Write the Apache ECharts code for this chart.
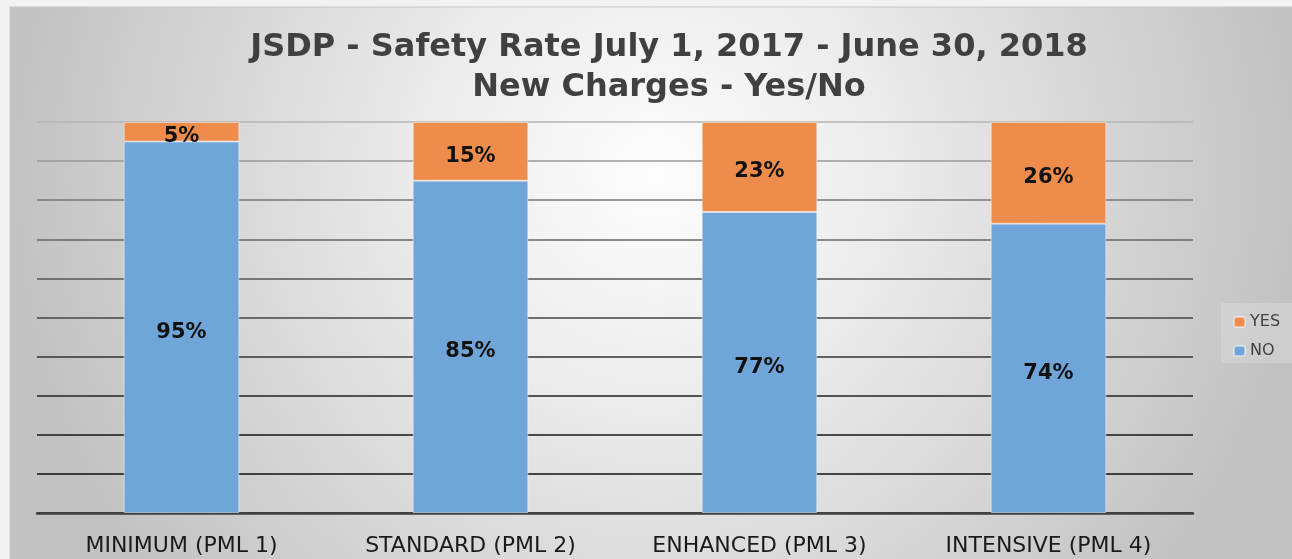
<!DOCTYPE html>
<html>
<head>
<meta charset="utf-8">
<style>
  html, body { margin: 0; padding: 0; background: #f2f2f2; }
  #main { width: 1292px; height: 559px; }
</style>
<script src="https://cdn.jsdelivr.net/npm/echarts@6/dist/echarts.min.js"></script>
</head>
<body>
<div id="main"></div>
<script>
var categories = ['MINIMUM (PML 1)', 'STANDARD (PML 2)', 'ENHANCED (PML 3)', 'INTENSIVE (PML 4)'];
var noValues = [95, 85, 77, 74];
var yesValues = [5, 15, 23, 26];

// gridlines fade from grey (top) to black (bottom)
var gridColors = ['#1a1a1a', '#111', '#161616', '#222', '#333', '#444', '#555', '#666', '#777', '#999', '#b4b4b4'];

var chart = echarts.init(document.getElementById('main'));

var labelStyle = {
    show: true,
    position: 'inside',
    offset: [0, 5],
    formatter: '{c}%',
    fontFamily: 'DejaVu Sans',
    fontWeight: 'bold',
    fontSize: 21,
    color: '#111'
};

var option = {
    animation: false,
    graphic: [
        {
            type: 'rect',
            z: -10,
            shape: { x: 10, y: 7, width: 1290, height: 560 },
            style: {
                fill: {
                    type: 'radial', x: 0.5, y: 0.3, r: 1.15,
                    colorStops: [
                        { offset: 0, color: '#fdfdfd' },
                        { offset: 0.35, color: '#ececec' },
                        { offset: 1, color: '#c2c2c2' }
                    ]
                },
                stroke: '#c8c8c8',
                lineWidth: 1
            }
        },
        {
            type: 'rect',
            z: -5,
            shape: { x: 1221, y: 303, width: 75, height: 60 },
            style: { fill: 'rgba(255,255,255,0.18)' }
        }
    ],
    title: {
        text: 'JSDP - Safety Rate July 1, 2017 - June 30, 2018\nNew Charges - Yes/No',
        left: 664,
        textAlign: 'center',
        top: 23,
        textStyle: {
            fontFamily: 'DejaVu Sans',
            fontWeight: 'bold',
            fontSize: 32,
            lineHeight: 40,
            color: '#404040'
        }
    },
    legend: {
        orient: 'vertical',
        left: 1228,
        top: 309,
        itemWidth: 11,
        itemHeight: 10,
        itemGap: 13,
        data: ['YES', 'NO'],
        textStyle: { fontFamily: 'DejaVu Sans', fontSize: 16, color: '#404040' }
    },
    grid: { left: 37, right: 99, top: 122, bottom: 46 },
    xAxis: {
        type: 'category',
        data: categories,
        axisLine: { lineStyle: { color: '#404040', width: 2.5 } },
        axisTick: { show: false },
        axisLabel: {
            margin: 22,
            fontFamily: 'DejaVu Sans',
            fontSize: 22,
            color: '#1a1a1a'
        }
    },
    yAxis: {
        type: 'value',
        min: 0,
        max: 100,
        interval: 10,
        axisLabel: { show: false },
        axisLine: { show: false },
        axisTick: { show: false },
        splitLine: { lineStyle: { color: gridColors, width: 1.5 } }
    },
    series: [
        {
            name: 'NO',
            type: 'bar',
            stack: 'total',
            barWidth: '40%',
            data: noValues,
            itemStyle: { color: '#6fa5d8', borderColor: 'rgba(255,255,255,0.45)', borderWidth: 1 },
            label: labelStyle
        },
        {
            name: 'YES',
            type: 'bar',
            stack: 'total',
            barWidth: '40%',
            data: yesValues,
            itemStyle: { color: '#ed8c4b', borderColor: 'rgba(255,255,255,0.45)', borderWidth: 1 },
            label: labelStyle
        }
    ]
};

chart.setOption(option);
</script>
</body>
</html>
